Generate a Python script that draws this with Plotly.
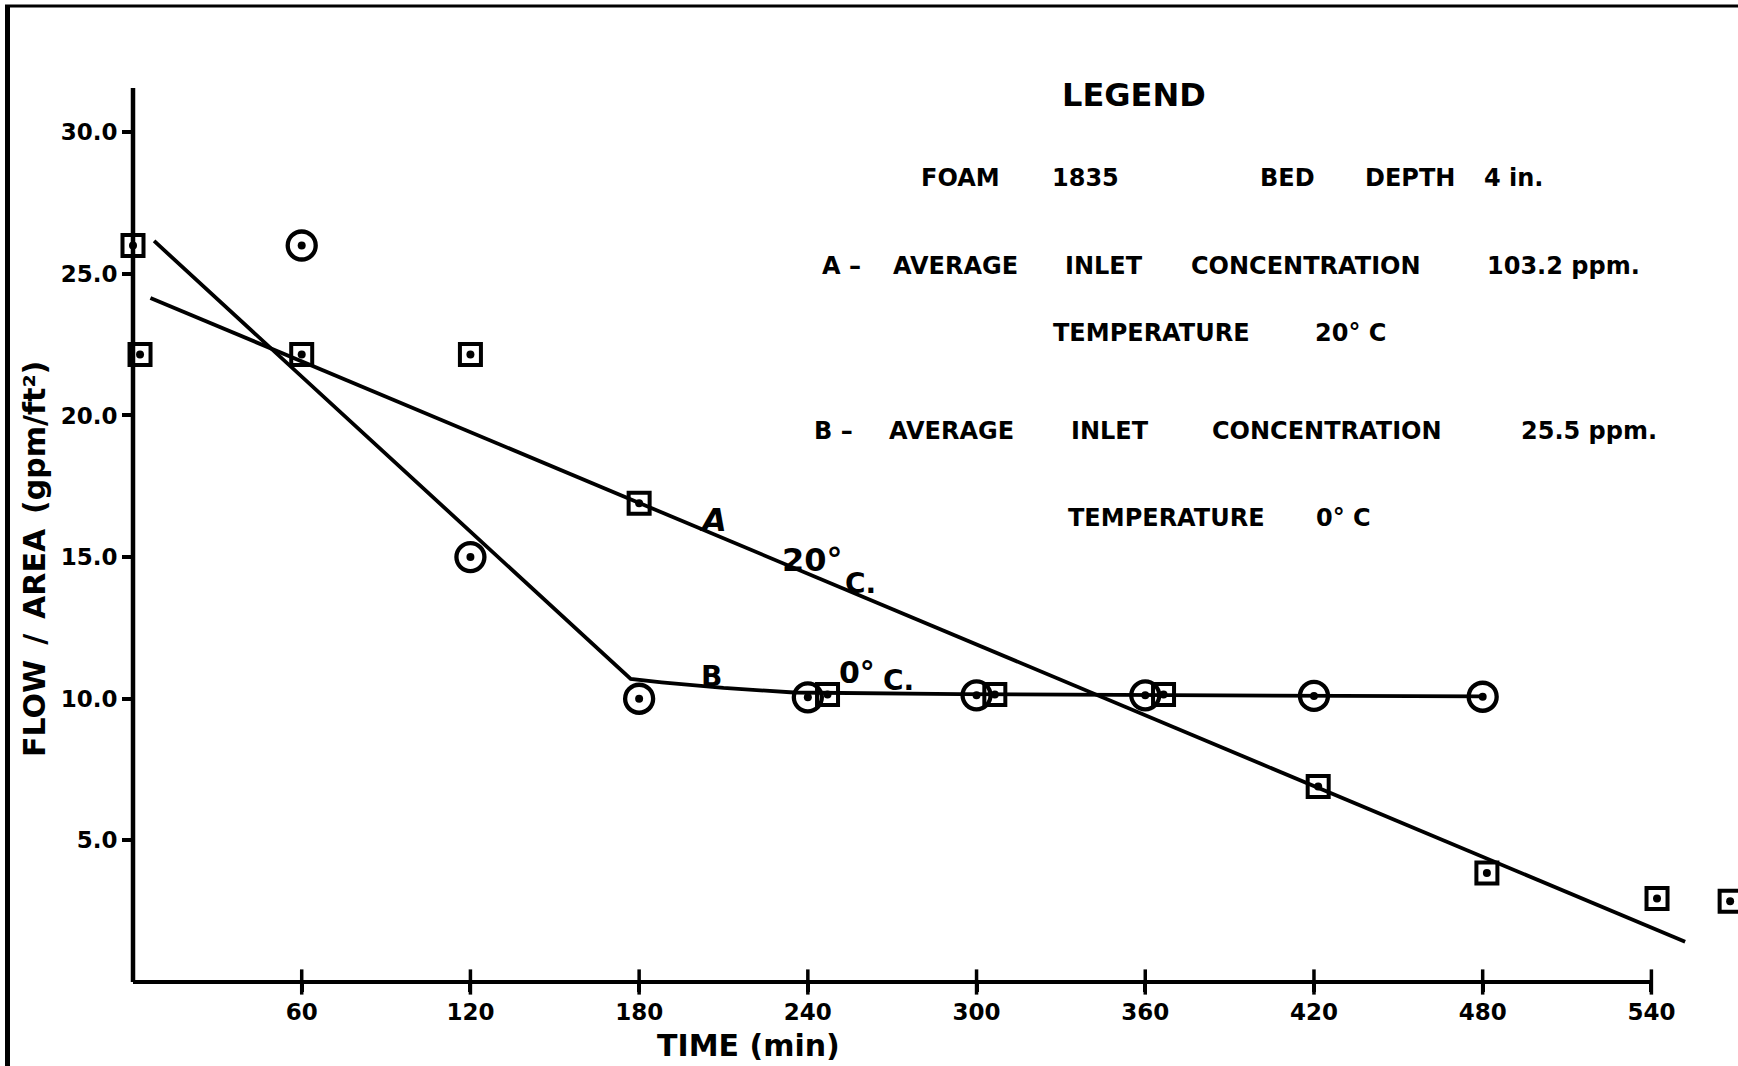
import plotly.graph_objects as go

# ---------------- data ----------------
sq_time = [0, 2.5, 60, 120, 180, 247, 306.5, 366.5, 421.5, 481.5, 542, 568]
sq_flow = [26.0, 22.15, 22.15, 22.15, 16.9, 10.15, 10.15, 10.15, 6.9, 3.85, 2.95, 2.85]

circ_time = [60, 120, 180, 240, 300, 360, 420, 480]
circ_flow = [26.0, 15.0, 10.0, 10.05, 10.12, 10.12, 10.1, 10.07]

line_a_time = [6.2, 552]
line_a_flow = [24.15, 1.42]

line_b_time = [7.5, 177, 188, 210, 235, 294, 480]
line_b_flow = [26.16, 10.7, 10.58, 10.38, 10.22, 10.16, 10.08]

x_ticks = [60, 120, 180, 240, 300, 360, 420, 480, 540]
x_ticktext = ["60", "120", "180", "240", "300", "360", "420", "480", "540"]
y_ticks = [5, 10, 15, 20, 25, 30]
y_ticktext = ["5.0", "10.0", "15.0", "20.0", "25.0", "30.0"]

X_AXIS_END = 540
Y_AXIS_END = 31.56

# ---------------- layout geometry ----------------
W_FIG, H_FIG = 1738, 1066
ML, MR, MT, MB = 133, 0, 20, 84
PW = W_FIG - ML - MR
PH = H_FIG - MT - MB
X_RANGE = [0, 570.8]
Y_RANGE = [0, 33.96]


def px(xp):
    return (xp - ML) / PW


def py(yp):
    return (H_FIG - MB - yp) / PH


FONT = "DejaVu Sans, Liberation Sans, Arial, sans-serif"
INK = "black"

fig = go.Figure()

fig.add_trace(go.Scatter(x=line_a_time, y=line_a_flow, mode="lines",
                         line=dict(color=INK, width=3.8), showlegend=False,
                         hoverinfo="skip"))
fig.add_trace(go.Scatter(x=line_b_time, y=line_b_flow, mode="lines",
                         line=dict(color=INK, width=3.8), showlegend=False,
                         hoverinfo="skip"))

# open markers
fig.add_trace(go.Scatter(x=sq_time, y=sq_flow, mode="markers",
                         marker=dict(symbol="square-open", size=21, color=INK,
                                     line=dict(color=INK, width=4)),
                         cliponaxis=False, showlegend=False))
fig.add_trace(go.Scatter(x=circ_time, y=circ_flow, mode="markers",
                         marker=dict(symbol="circle-open", size=28, color=INK,
                                     line=dict(color=INK, width=4.3)),
                         cliponaxis=False, showlegend=False))
# centre dots of both marker sets
fig.add_trace(go.Scatter(x=sq_time, y=sq_flow, mode="markers",
                         marker=dict(symbol="circle", size=8, color=INK, line=dict(width=0)),
                         cliponaxis=False, showlegend=False, hoverinfo="skip"))
fig.add_trace(go.Scatter(x=circ_time, y=circ_flow, mode="markers",
                         marker=dict(symbol="circle", size=8, color=INK, line=dict(width=0)),
                         cliponaxis=False, showlegend=False, hoverinfo="skip"))

# upper half of the crossing x ticks
fig.add_trace(go.Scatter(x=x_ticks, y=[0] * len(x_ticks), mode="markers",
                         marker=dict(symbol="line-ns", size=18, color=INK,
                                     line=dict(color=INK, width=3.5)),
                         cliponaxis=False, showlegend=False, hoverinfo="skip"))

# axis lines (drawn only as far as the original), in paper units so they are not clipped
x_end_paper = (X_AXIS_END - X_RANGE[0]) / (X_RANGE[1] - X_RANGE[0])
y_end_paper = (Y_AXIS_END - Y_RANGE[0]) / (Y_RANGE[1] - Y_RANGE[0])
shapes = [
    dict(type="line", xref="paper", yref="paper", x0=0, y0=0, x1=0, y1=y_end_paper,
         line=dict(color=INK, width=4.5), layer="above"),
    dict(type="line", xref="paper", yref="paper", x0=0, y0=0, x1=x_end_paper, y1=0,
         line=dict(color=INK, width=4), layer="above"),
    # scan frame
    dict(type="line", xref="paper", yref="paper", x0=px(7.5), y0=py(6), x1=px(7.5), y1=py(1066),
         line=dict(color=INK, width=5)),
    dict(type="line", xref="paper", yref="paper", x0=px(5), y0=py(6), x1=px(1738), y1=py(6),
         line=dict(color=INK, width=3)),
]

annotations = []


def ptext(text, xc, yc, size, weight="bold", angle=0, style="normal"):
    annotations.append(dict(text=text, xref="paper", yref="paper", x=px(xc), y=py(yc),
                            xanchor="center", yanchor="middle", showarrow=False,
                            textangle=angle,
                            font=dict(family=FONT, size=size, color=INK,
                                      weight=weight, style=style)))


def dtext(text, x, y, size, style="normal"):
    annotations.append(dict(text=text, xref="x", yref="y", x=x, y=y,
                            xanchor="center", yanchor="middle", showarrow=False,
                            font=dict(family=FONT, size=size, color=INK,
                                      weight="bold", style=style)))


# legend block
ptext("LEGEND", 1134, 95, 32)
for word, xc in [("FOAM", 960), ("1835", 1085), ("BED", 1287), ("DEPTH", 1410), ("4 in.", 1513)]:
    ptext(word, xc, 178, 24)
for word, xc in [("A –", 841), ("AVERAGE", 955), ("INLET", 1104), ("CONCENTRATION", 1306),
                 ("103.2 ppm.", 1563)]:
    ptext(word, xc, 266, 24)
for word, xc in [("TEMPERATURE", 1151), ("20° C", 1350)]:
    ptext(word, xc, 333, 24)
for word, xc in [("B –", 833), ("AVERAGE", 951), ("INLET", 1110), ("CONCENTRATION", 1327),
                 ("25.5 ppm.", 1589)]:
    ptext(word, xc, 431, 24)
for word, xc in [("TEMPERATURE", 1166), ("0° C", 1343)]:
    ptext(word, xc, 518, 24)

# axis titles
ptext("TIME (min)", 748, 1045, 30)
ptext("FLOW\u2002/\u2002AREA\u2002(gpm/ft²)", 34, 559, 30, angle=-90)

# curve labels
dtext("A", 206.4, 16.31, 32, style="italic")
dtext("20°", 241.5, 14.9, 32)
dtext("C.", 258.7, 14.08, 28)
dtext("B", 205.9, 10.78, 28)
dtext("0°", 257.5, 10.91, 30)
dtext("C.", 272.2, 10.66, 28)

fig.update_layout(
    width=W_FIG, height=H_FIG,
    margin=dict(l=ML, r=MR, t=MT, b=MB, pad=0),
    paper_bgcolor="white", plot_bgcolor="white",
    shapes=shapes, annotations=annotations,
    showlegend=False,
    font=dict(family=FONT, color=INK),
)
fig.update_xaxes(range=X_RANGE, showgrid=False, zeroline=False, showline=False,
                 tickmode="array", tickvals=x_ticks, ticktext=x_ticktext,
                 ticks="outside", ticklen=9, tickwidth=3.5, tickcolor=INK,
                 tickfont=dict(family=FONT, size=23, color=INK, weight="bold"))
fig.update_yaxes(range=Y_RANGE, showgrid=False, zeroline=False, showline=False,
                 tickmode="array", tickvals=y_ticks, ticktext=y_ticktext,
                 ticks="outside", ticklen=10, tickwidth=3.5, tickcolor=INK,
                 tickfont=dict(family=FONT, size=23, color=INK, weight="bold"))

fig.write_html("out.html",
               config={"displayModeBar": False},
               post_script="document.body.style.margin='0px';document.body.style.overflow='hidden';")
